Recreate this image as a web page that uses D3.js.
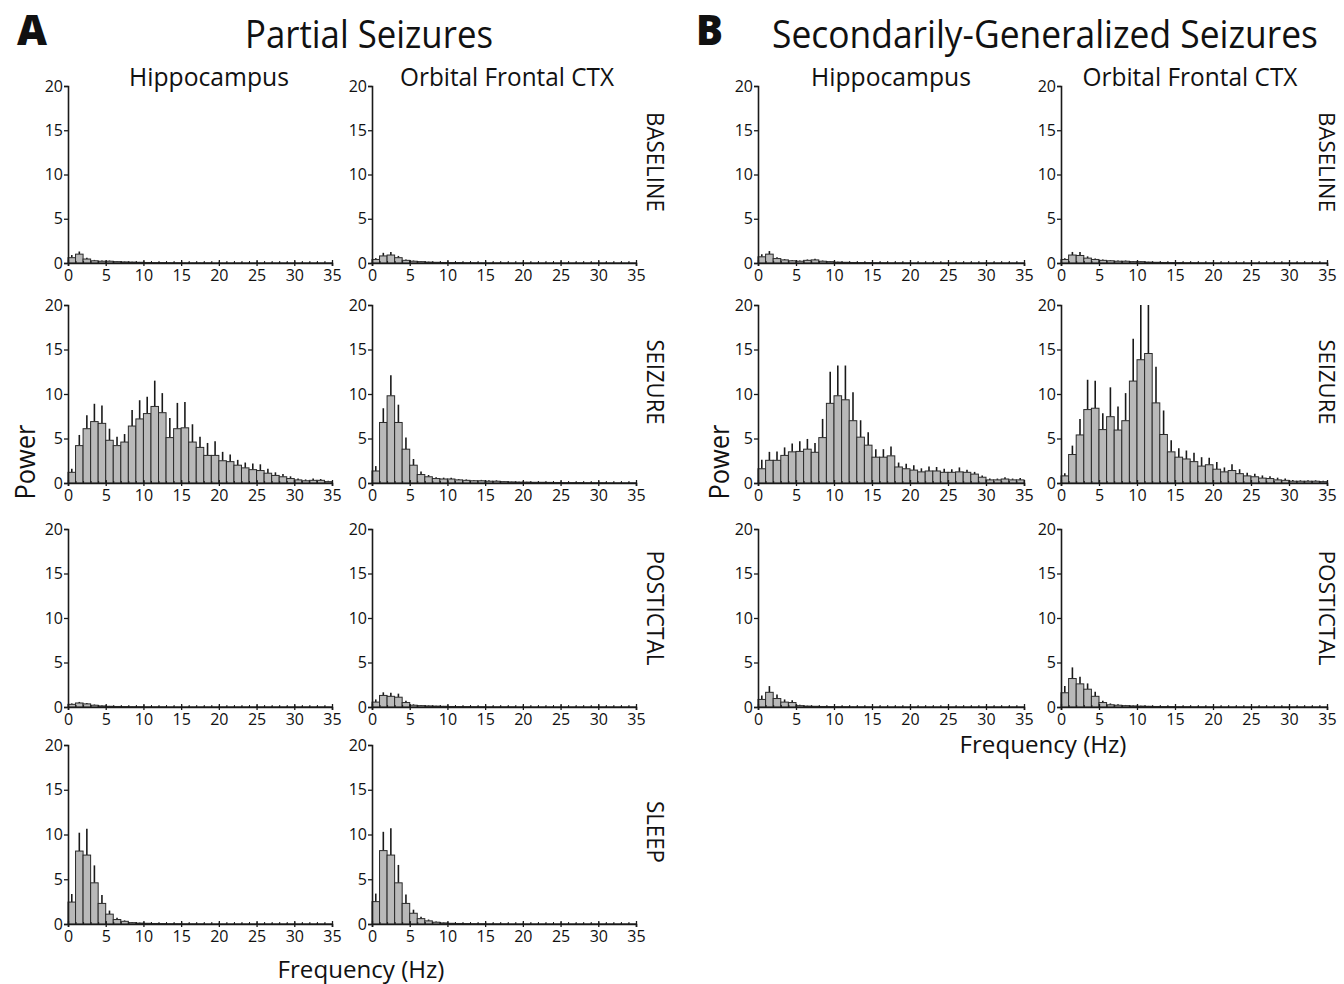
<!DOCTYPE html>
<html>
<head>
<meta charset="utf-8">
<script src="https://cdn.jsdelivr.net/npm/d3@7"></script>
<style>
body { margin: 0; background: #fff; }
svg { display: block; }
text { font-family: "Open Sans", sans-serif; fill: #111; }
</style>
</head>
<body>
<svg id="fig" width="1344" height="984"></svg>
<script>
// 1 Hz frequency bins, bin start in Hz
var binStart = [0,1,2,3,4,5,6,7,8,9,10,11,12,13,14,15,16,17,18,19,20,21,22,23,24,25,26,27,28,29,30,31,32,33,34];
var xTicks = [0,5,10,15,20,25,30,35];
var yTicks = [0,5,10,15,20];

// ---- A: partial seizures ----
var aHipBase    = [0.6,1.0,0.45,0.25,0.2, 0.2,0.15,0.12,0.1,0.08, 0.06,0.05,0.05,0.04,0.04, 0.03,0.03,0.03,0.03,0.02, 0.02,0.02,0.02,0.02,0.02, 0.02,0.02,0.02,0.02,0.02, 0.02,0.02,0.02,0.02,0.02];
var aHipBaseSem = [0.3,0.3,0.15,0.1,0.08, 0.08,0.06,0.05,0.05,0.04, 0.03,0.03,0.03,0.02,0.02, 0.02,0.02,0.02,0.02,0.02, 0.01,0.01,0.01,0.01,0.01, 0.01,0.01,0.01,0.01,0.01, 0.01,0.01,0.01,0.01,0.01];
var aOfcBase    = [0.4,0.8,0.9,0.6,0.3, 0.2,0.15,0.1,0.08,0.06, 0.05,0.05,0.04,0.04,0.03, 0.03,0.03,0.03,0.02,0.02, 0.02,0.02,0.02,0.02,0.02, 0.02,0.02,0.02,0.02,0.02, 0.02,0.02,0.02,0.02,0.02];
var aOfcBaseSem = [0.15,0.35,0.35,0.2,0.1, 0.08,0.06,0.05,0.04,0.03, 0.03,0.02,0.02,0.02,0.02, 0.01,0.01,0.01,0.01,0.01, 0.01,0.01,0.01,0.01,0.01, 0.01,0.01,0.01,0.01,0.01, 0.01,0.01,0.01,0.01,0.01];

var aHipSeiz    = [1.2,4.2,6.1,6.9,6.7, 4.8,4.2,4.6,6.4,7.2, 7.8,8.6,7.9,5.1,6.1, 6.2,4.6,4.0,3.1,3.1, 2.5,2.4,2.0,1.7,1.5, 1.4,1.1,0.85,0.7,0.5, 0.35,0.25,0.3,0.3,0.15];
var aHipSeizSem = [0.4,1.2,1.5,2.0,2.0, 1.3,1.0,0.9,1.8,2.1, 1.9,2.9,2.2,2.2,2.9, 2.9,2.0,1.2,1.4,1.6, 1.0,0.8,0.6,0.6,0.7, 0.7,0.5,0.35,0.3,0.25, 0.15,0.15,0.2,0.15,0.1];
var aOfcSeiz    = [1.35,6.8,9.8,6.8,3.8, 2.0,0.95,0.7,0.5,0.45, 0.45,0.35,0.3,0.25,0.25, 0.2,0.2,0.15,0.12,0.1, 0.1,0.08,0.08,0.07,0.06, 0.05,0.05,0.05,0.04,0.04, 0.04,0.03,0.03,0.03,0.03];
var aOfcSeizSem = [0.55,1.6,2.3,2.0,1.3, 0.7,0.35,0.2,0.15,0.15, 0.15,0.1,0.1,0.1,0.1, 0.1,0.1,0.05,0.04,0.03, 0.03,0.03,0.03,0.02,0.02, 0.02,0.02,0.02,0.02,0.02, 0.02,0.01,0.01,0.01,0.01];

var aHipPost    = [0.3,0.45,0.35,0.2,0.12, 0.08,0.06,0.05,0.04,0.04, 0.03,0.03,0.03,0.02,0.02, 0.02,0.02,0.02,0.02,0.02, 0.02,0.02,0.02,0.02,0.02, 0.02,0.02,0.02,0.02,0.02, 0.02,0.02,0.02,0.02,0.02];
var aHipPostSem = [0.1,0.12,0.1,0.08,0.05, 0.04,0.03,0.02,0.02,0.02, 0.01,0.01,0.01,0.01,0.01, 0.01,0.01,0.01,0.01,0.01, 0.01,0.01,0.01,0.01,0.01, 0.01,0.01,0.01,0.01,0.01, 0.01,0.01,0.01,0.01,0.01];
var aOfcPost    = [0.55,1.3,1.2,1.1,0.5, 0.2,0.15,0.12,0.1,0.08, 0.06,0.05,0.05,0.04,0.04, 0.03,0.03,0.03,0.03,0.02, 0.02,0.02,0.02,0.02,0.02, 0.02,0.02,0.02,0.02,0.02, 0.02,0.02,0.02,0.02,0.02];
var aOfcPostSem = [0.3,0.35,0.4,0.4,0.2, 0.1,0.08,0.06,0.05,0.04, 0.03,0.03,0.02,0.02,0.02, 0.01,0.01,0.01,0.01,0.01, 0.01,0.01,0.01,0.01,0.01, 0.01,0.01,0.01,0.01,0.01, 0.01,0.01,0.01,0.01,0.01];

var aHipSleep    = [2.45,8.15,7.7,4.6,2.3, 1.1,0.5,0.3,0.15,0.1, 0.08,0.06,0.05,0.04,0.04, 0.03,0.03,0.03,0.02,0.02, 0.02,0.02,0.02,0.02,0.02, 0.02,0.02,0.02,0.02,0.02, 0.02,0.02,0.02,0.02,0.02];
var aHipSleepSem = [0.9,2.05,2.95,1.95,0.95, 0.4,0.2,0.1,0.06,0.05, 0.04,0.03,0.03,0.02,0.02, 0.01,0.01,0.01,0.01,0.01, 0.01,0.01,0.01,0.01,0.01, 0.01,0.01,0.01,0.01,0.01, 0.01,0.01,0.01,0.01,0.01];
var aOfcSleep    = [2.5,8.2,7.7,4.6,2.3, 1.2,0.6,0.35,0.2,0.12, 0.08,0.06,0.05,0.04,0.04, 0.03,0.03,0.03,0.02,0.02, 0.02,0.02,0.02,0.02,0.02, 0.02,0.02,0.02,0.02,0.02, 0.02,0.02,0.02,0.02,0.02];
var aOfcSleepSem = [0.9,2.1,3.0,2.0,1.0, 0.4,0.2,0.15,0.08,0.05, 0.04,0.03,0.03,0.02,0.02, 0.01,0.01,0.01,0.01,0.01, 0.01,0.01,0.01,0.01,0.01, 0.01,0.01,0.01,0.01,0.01, 0.01,0.01,0.01,0.01,0.01];

// ---- B: secondarily-generalized seizures ----
var bHipBase    = [0.7,1.0,0.5,0.35,0.25, 0.2,0.3,0.35,0.2,0.15, 0.1,0.08,0.06,0.05,0.05, 0.04,0.04,0.03,0.03,0.03, 0.02,0.02,0.02,0.02,0.02, 0.02,0.02,0.02,0.02,0.02, 0.02,0.02,0.02,0.02,0.02];
var bHipBaseSem = [0.3,0.35,0.15,0.1,0.08, 0.08,0.1,0.12,0.08,0.06, 0.04,0.03,0.03,0.02,0.02, 0.01,0.01,0.01,0.01,0.01, 0.01,0.01,0.01,0.01,0.01, 0.01,0.01,0.01,0.01,0.01, 0.01,0.01,0.01,0.01,0.01];
var bOfcBase    = [0.4,0.9,0.85,0.55,0.4, 0.3,0.25,0.2,0.2,0.15, 0.15,0.1,0.08,0.06,0.05, 0.05,0.04,0.04,0.03,0.03, 0.02,0.02,0.02,0.02,0.02, 0.02,0.02,0.02,0.02,0.02, 0.02,0.02,0.02,0.02,0.02];
var bOfcBaseSem = [0.15,0.35,0.4,0.2,0.12, 0.1,0.08,0.08,0.08,0.06, 0.05,0.04,0.03,0.02,0.02, 0.01,0.01,0.01,0.01,0.01, 0.01,0.01,0.01,0.01,0.01, 0.01,0.01,0.01,0.01,0.01, 0.01,0.01,0.01,0.01,0.01];

var bHipSeiz    = [1.6,2.55,2.55,3.1,3.5, 3.55,3.8,3.45,5.1,8.95, 9.8,9.35,7.0,5.15,4.25, 2.9,2.9,3.05,1.8,1.6, 1.45,1.25,1.35,1.35,1.2, 1.2,1.25,1.2,1.0,0.65, 0.35,0.35,0.45,0.35,0.35];
var bHipSeizSem = [1.0,0.95,1.0,0.9,0.95, 1.15,1.15,1.05,2.1,3.55, 3.4,3.85,3.2,1.9,1.45, 0.9,0.9,1.05,0.5,0.55, 0.55,0.4,0.5,0.45,0.4, 0.35,0.5,0.3,0.25,0.2, 0.15,0.15,0.2,0.15,0.2];
var bOfcSeiz    = [0.8,3.2,5.4,8.25,8.4, 6.0,7.45,5.95,7.0,11.45, 13.85,14.55,9.0,5.45,3.5, 2.9,2.7,2.4,1.9,2.05, 1.55,1.25,1.4,1.05,0.8, 0.7,0.55,0.5,0.35,0.3, 0.2,0.2,0.2,0.2,0.15];
var bOfcSeizSem = [0.3,1.0,1.8,3.35,3.1, 1.85,3.3,2.65,3.1,4.75, 6.5,5.8,4.05,2.7,1.3, 1.0,0.95,1.0,1.0,0.8, 0.8,0.5,0.7,0.5,0.35, 0.35,0.3,0.25,0.25,0.2, 0.15,0.1,0.1,0.1,0.1];

var bHipPost    = [0.85,1.65,0.95,0.55,0.5, 0.15,0.1,0.08,0.06,0.05, 0.04,0.04,0.03,0.03,0.03, 0.02,0.02,0.02,0.02,0.02, 0.02,0.02,0.02,0.02,0.02, 0.02,0.02,0.02,0.02,0.02, 0.02,0.02,0.02,0.02,0.02];
var bHipPostSem = [0.45,0.7,0.45,0.3,0.25, 0.1,0.05,0.04,0.03,0.03, 0.02,0.02,0.02,0.01,0.01, 0.01,0.01,0.01,0.01,0.01, 0.01,0.01,0.01,0.01,0.01, 0.01,0.01,0.01,0.01,0.01, 0.01,0.01,0.01,0.01,0.01];
var bOfcPost    = [1.6,3.2,2.6,2.0,1.2, 0.5,0.25,0.2,0.15,0.12, 0.1,0.08,0.06,0.05,0.05, 0.04,0.04,0.03,0.03,0.03, 0.02,0.02,0.02,0.02,0.02, 0.02,0.02,0.02,0.02,0.02, 0.02,0.02,0.02,0.02,0.02];
var bOfcPostSem = [0.75,1.25,0.8,0.65,0.5, 0.2,0.15,0.1,0.08,0.06, 0.05,0.04,0.03,0.03,0.02, 0.01,0.01,0.01,0.01,0.01, 0.01,0.01,0.01,0.01,0.01, 0.01,0.01,0.01,0.01,0.01, 0.01,0.01,0.01,0.01,0.01];

var stateLabels = ["BASELINE", "SEIZURE", "POSTICTAL", "SLEEP"];
var regionLabels = ["Hippocampus", "Orbital Frontal CTX"];

// panel frame: x of 0 Hz and 35 Hz per column, y of 0 and 20 per row
var colX = { aHip: [68, 332], aOfc: [372, 636], bHip: [758, 1024], bOfc: [1061, 1327] };
var rowY = [[263, 86], [483, 305], [707, 529], [924, 745]];

var panels = [
    {col: "aHip", row: 0, m: aHipBase,  e: aHipBaseSem},
    {col: "aOfc", row: 0, m: aOfcBase,  e: aOfcBaseSem},
    {col: "aHip", row: 1, m: aHipSeiz,  e: aHipSeizSem},
    {col: "aOfc", row: 1, m: aOfcSeiz,  e: aOfcSeizSem},
    {col: "aHip", row: 2, m: aHipPost,  e: aHipPostSem},
    {col: "aOfc", row: 2, m: aOfcPost,  e: aOfcPostSem},
    {col: "aHip", row: 3, m: aHipSleep, e: aHipSleepSem},
    {col: "aOfc", row: 3, m: aOfcSleep, e: aOfcSleepSem},
    {col: "bHip", row: 0, m: bHipBase,  e: bHipBaseSem},
    {col: "bOfc", row: 0, m: bOfcBase,  e: bOfcBaseSem},
    {col: "bHip", row: 1, m: bHipSeiz,  e: bHipSeizSem},
    {col: "bOfc", row: 1, m: bOfcSeiz,  e: bOfcSeizSem},
    {col: "bHip", row: 2, m: bHipPost,  e: bHipPostSem},
    {col: "bOfc", row: 2, m: bOfcPost,  e: bOfcPostSem}
];

var svg = d3.select("#fig");
var ink = "#1a1a1a";

function drawPanel(p) {
    var xr = colX[p.col], yr = rowY[p.row];
    var x = d3.scaleLinear().domain([0, 35]).range(xr);
    var y = d3.scaleLinear().domain([0, 20]).range(yr).clamp(true);
    var bw = x(1) - x(0);
    var g = svg.append("g");

    // error bars (upper only) behind bars
    g.append("g").selectAll("line")
	.data(p.m)
	.enter().append("line")
	.attr("x1", function(d,i){return x(binStart[i]) + bw/2;})
	.attr("x2", function(d,i){return x(binStart[i]) + bw/2;})
	.attr("y1", function(d){return y(d);})
	.attr("y2", function(d,i){return y(d + p.e[i]);})
	.attr("stroke", ink)
	.attr("stroke-width", 1.6);

    g.append("g").selectAll("rect")
	.data(p.m)
	.enter().append("rect")
	.attr("x", function(d,i){return x(binStart[i]);})
	.attr("width", bw)
	.attr("y", function(d){return y(d);})
	.attr("height", function(d){return yr[0] - y(d);})
	.attr("fill", "#b9b9b9")
	.attr("stroke", "#2a2a2a")
	.attr("stroke-width", 1);

    // minor 1 Hz ticks
    var minor = g.append("g")
	.attr("transform", "translate(0," + yr[0] + ")")
	.call(d3.axisBottom(x).tickValues(binStart).tickSize(-2).tickFormat(""));
    minor.select(".domain").remove();
    minor.selectAll("line").attr("stroke", ink);

    var xa = g.append("g")
	.attr("transform", "translate(0," + yr[0] + ")")
	.call(d3.axisBottom(x).tickValues(xTicks).tickSizeOuter(0).tickSize(3).tickPadding(4));
    xa.selectAll(".tick line").attr("y1", -3).attr("stroke", ink).attr("stroke-width", 1.3);
    xa.select(".domain").attr("stroke", ink).attr("stroke-width", 1.6);
    xa.selectAll("text").style("font-size", "16px").style("font-family", "'Open Sans', sans-serif").attr("fill", ink);

    var ya = g.append("g")
	.attr("transform", "translate(" + xr[0] + ",0)")
	.call(d3.axisLeft(y).tickValues(yTicks).tickSizeOuter(0).tickSize(4).tickPadding(1));
    ya.selectAll(".tick line").attr("stroke", ink).attr("stroke-width", 1.3);
    ya.select(".domain").attr("stroke", ink).attr("stroke-width", 1.6);
    ya.selectAll("text").style("font-size", "16px").style("font-family", "'Open Sans', sans-serif").attr("fill", ink);
}

panels.forEach(drawPanel);

// text squeezed horizontally (narrow, Myriad-like) to a target width
function label(txt, x, y, size, opts) {
    opts = opts || {};
    var t = svg.append("text")
	.attr("x", 0).attr("y", 0)
	.attr("text-anchor", opts.anchor || "middle")
	.style("font-size", size + "px")
	.style("font-weight", opts.weight || 400)
	.text(txt);
    var sx = 1;
    if (opts.len) sx = opts.len / t.node().getComputedTextLength();
    t.attr("transform", "translate(" + x + "," + y + ")" +
	   (opts.rot ? " rotate(" + opts.rot + ")" : "") +
	   " scale(" + sx + ",1)");
    return t;
}

// panel letters and titles
label("A", 17, 45, 42, {anchor: "start", weight: 800, len: 30});
label("B", 696, 45, 42, {anchor: "start", weight: 800, len: 27});
label("Partial Seizures", 369, 48, 38, {len: 248});
label("Secondarily-Generalized Seizures", 1045, 48, 38, {len: 546});

// column headers
label(regionLabels[0], 209, 86, 25, {len: 160});
label(regionLabels[1], 507, 86, 25, {len: 214});
label(regionLabels[0], 891, 86, 25, {len: 160});
label(regionLabels[1], 1190, 86, 25, {len: 215});

// row labels (rotated, reading downward)
var rowCenters = [162, 382, 608, 832];
var rowLens = [100, 85, 115, 62];
stateLabels.forEach(function(s, i) {
    label(s, 647, rowCenters[i], 24, {len: rowLens[i], rot: 90});
    if (i < 3) label(s, 1319, rowCenters[i], 22, {len: rowLens[i], rot: 90});
});

// axis titles
label("Power", 35, 462, 27, {len: 75, rot: -90});
label("Power", 729, 462, 27, {len: 75, rot: -90});
label("Frequency (Hz)", 361, 978, 24, {len: 167});
label("Frequency (Hz)", 1043, 753, 23, {len: 167});
</script>
</body>
</html>
